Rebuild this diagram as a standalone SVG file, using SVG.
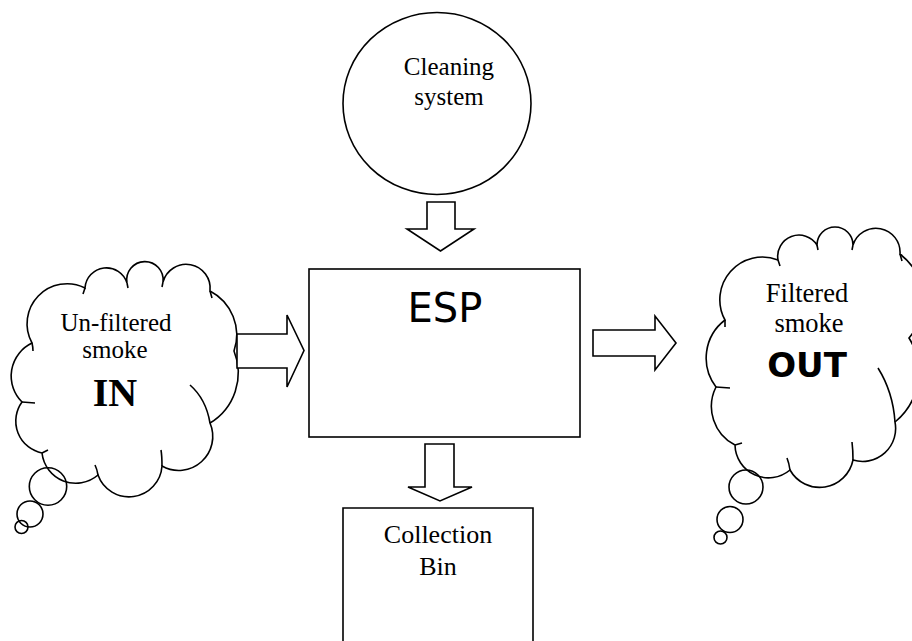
<svg xmlns="http://www.w3.org/2000/svg" width="912" height="641" viewBox="0 0 912 641">
<style>
.ln{fill:none;stroke:#000;stroke-width:1.6;stroke-linejoin:miter}
.blk{fill:#fff;stroke:#000;stroke-width:1.6;stroke-linejoin:miter}
.serif{font-family:"Liberation Serif","Times New Roman",serif;fill:#000;text-anchor:middle}
.sans{font-family:"DejaVu Sans",Verdana,sans-serif;fill:#000;text-anchor:middle}
</style>
<rect width="912" height="641" fill="#fff"/>
<g id="cleaning">
<ellipse class="ln" cx="437" cy="103.5" rx="94" ry="91"/>
<text class="serif" font-size="25" x="449" y="75">Cleaning</text>
<text class="serif" font-size="25" x="449" y="105">system</text>
</g>
<g id="esp">
<rect class="ln" x="309" y="269" width="271" height="168"/>
<text class="sans" font-size="40" x="445" y="322">ESP</text>
</g>
<g id="bin">
<path class="ln" d="M343,650 V508 H533 V650"/>
<text class="serif" font-size="26" x="438" y="543">Collection</text>
<text class="serif" font-size="26" x="438" y="575">Bin</text>
</g>
<g id="cloud-in">
<path class="ln" d="M32,343 A40,40 0 0 1 85,288 A21.5,21.5 0 0 1 127,283 A18.2,18.2 0 1 1 163,282 A24,24 0 0 1 210,291 A49.5,49.5 0 0 1 234,351 A58.6,58.6 0 0 1 210,423 A34,34 0 0 1 162,466 A33,33 0 0 1 98,475 A34,34 0 0 1 42,453 A32.5,32.5 0 0 1 22,402 A36.6,36.6 0 0 1 32,343 Z"/>
<path class="ln" d="M32,343 q1,4 1,8 M85,288 l-2,6 M127,283 l1,5 M163,282 l-1,5 M210,291 l2,7 M210,423 Q206,399 190,385 M162,466 Q162,456 161,450 M98,475 Q97,469 95,465 M42,453 L48,450 M22,402 L35,403"/>
<circle class="ln" cx="48" cy="486.5" r="18.7"/>
<circle class="ln" cx="30" cy="514" r="13"/>
<circle class="ln" cx="21.5" cy="527" r="6.5"/>
<text class="serif" font-size="25" x="116" y="331">Un-filtered</text>
<text class="serif" font-size="25" x="115" y="358">smoke</text>
<text class="serif" font-size="40" font-weight="bold" x="115" y="406">IN</text>
</g>
<g id="cloud-out">
<path class="ln" d="M725,320 A42.6,42.6 0 0 1 778,260 A21.3,21.3 0 0 1 817,245 A18,18 0 0 1 853,245 A24.1,24.1 0 0 1 900,254 A58.5,58.5 0 0 1 909,338 A64.7,64.7 0 0 1 895,422 A33,33 0 0 1 853,460 A34,34 0 0 1 790,470 A33.5,33.5 0 0 1 735,445 A43.4,43.4 0 0 1 716,387 A47.8,47.8 0 0 1 725,320 Z"/>
<path class="ln" d="M725,320 l0,7 M778,260 l2,6 M817,245 l1,5 M853,245 l-1,5 M900,254 l2,7 M895,422 Q893,392 878,368 M853,460 Q853,450 852,442 M790,470 Q789,463 787,458 M735,445 L742,443 M716,387 L730,388"/>
<circle class="ln" cx="746" cy="487" r="17"/>
<circle class="ln" cx="730" cy="519.5" r="13"/>
<circle class="ln" cx="720.5" cy="537.5" r="6.5"/>
<text class="serif" font-size="26.5" x="807" y="302">Filtered</text>
<text class="serif" font-size="26.5" x="809" y="332">smoke</text>
<text class="sans" font-size="34" font-weight="bold" x="807" y="377">OUT</text>
</g>
<g id="connectors">
<polygon class="blk" points="427,202 455,202 455,229 474,229 440.5,251 407,229 427,229"/>
<polygon class="blk" points="237,334 287,334 287,315 304,350.5 287,387 287,368 237,368"/>
<polygon class="blk" points="593,330 655,330 655,316 676,343 655,370 655,356 593,356"/>
<polygon class="blk" points="425,444 454,444 454,487 472,487 440,501 408,487 425,487"/>
</g>
</svg>
